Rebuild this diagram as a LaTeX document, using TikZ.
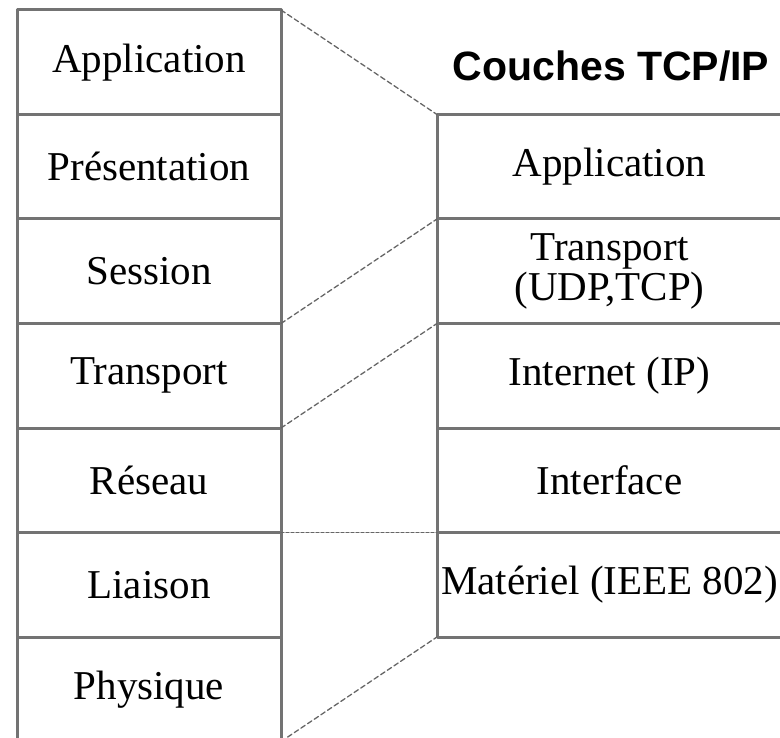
\documentclass[tikz,border=0pt]{standalone}
\usepackage{fontspec}
\setmainfont{Liberation Serif}
\newfontfamily\titlefont{Liberation Sans}
\usetikzlibrary{positioning}
\begin{document}
\begin{tikzpicture}[x=1pt,y=1pt,line join=round,line cap=round]
	\tikzset{layer/.style={draw=black!55,line width=3pt,minimum height=104.5pt,inner sep=0pt,outer sep=0pt,align=center,font=\fontsize{41}{40}\selectfont},
		osi/.style={layer,minimum width=264pt},
		tcp/.style={layer,minimum width=345pt},
		link/.style={black!60,line width=1.3pt,dash pattern=on 5pt off 3pt}}
	\useasboundingbox (0,0) rectangle (780,-738);
	\clip (0,0) rectangle (780,-738);
	\node[osi,anchor=north west] (app) at (17,-10) {Application};
	\node[osi,below=0pt of app] (pres) {Présentation};
	\node[osi,below=0pt of pres] (sess) {Session};
	\node[osi,below=0pt of sess] (trans) {Transport};
	\node[osi,below=0pt of trans] (res) {Réseau};
	\node[osi,below=0pt of res] (liai) {Liaison};
	\node[osi,below=0pt of liai] (phys) {Physique};
	\node[font=\titlefont\bfseries\fontsize{41}{41}\selectfont] (title) at (611,-66) {Couches TCP/IP};
	\node[tcp,anchor=north west] (tapp) at (437,-114.5) {Application};
	\node[tcp,below=0pt of tapp] (ttrans) {Transport\\(UDP,TCP)};
	\node[tcp,below=0pt of ttrans] (tint) {Internet (IP)};
	\node[tcp,below=0pt of tint] (tinterf) {Interface};
	\node[tcp,below=0pt of tinterf] (tmat) {Matériel (IEEE 802)};
	\draw[link] (app.north east) -- (tapp.north west);
	\draw[link] (sess.south east) -- (ttrans.north west);
	\draw[link] (trans.south east) -- (tint.north west);
	\draw[link,dash pattern=on 3pt off 2pt] (res.south east) -- (tinterf.south west);
	\draw[link] (phys.south east) -- (tmat.south west);
\end{tikzpicture}
\end{document}
